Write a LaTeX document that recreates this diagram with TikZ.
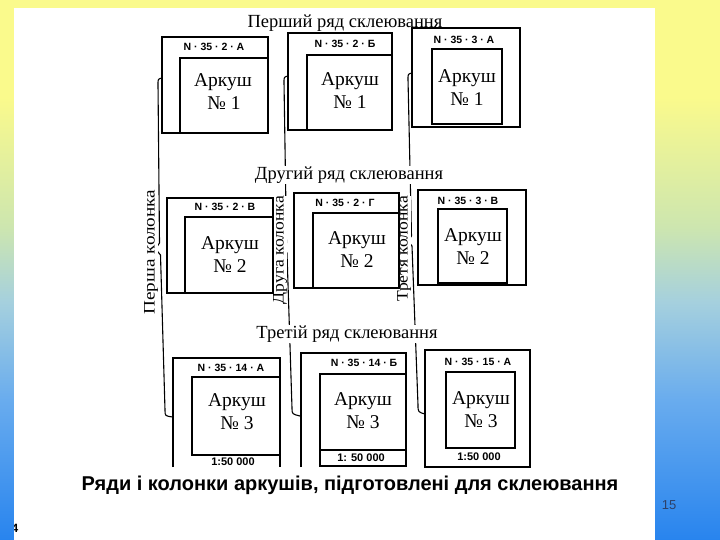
\documentclass[tikz,border=0pt]{standalone}
\usepackage{graphicx}
\usepackage{fontspec}
\setmainfont{Liberation Serif}
\newfontfamily\lsans{Liberation Sans}
\definecolor{bgblue}{RGB}{40,132,238}
\definecolor{bgmblue}{RGB}{105,172,238}
\definecolor{bglblue}{RGB}{165,208,222}
\definecolor{bggreen}{RGB}{205,230,175}
\definecolor{bgyellow}{RGB}{250,250,140}
\definecolor{pagenum}{RGB}{45,65,105}
\pgfdeclareverticalshading{bgshade}{100bp}{color(0bp)=(bgblue); color(25bp)=(bgblue); color(38bp)=(bgmblue); color(47bp)=(bglblue); color(54bp)=(bggreen); color(66bp)=(bgyellow); color(75bp)=(bgyellow); color(100bp)=(bgyellow)}
\usetikzlibrary{calc}
\tikzset{
  outerbox/.style={line width=2.8pt, line join=miter},
  innerbox/.style={line width=2pt, line join=miter},
  bracket/.style={line width=1.1pt, line join=round, line cap=round},
  sheetlbl/.style={font=\lsans\bfseries\fontsize{10.5}{11}\selectfont, inner sep=0pt},
  ark/.style={font=\fontsize{19.5}{21}\selectfont, inner sep=0pt},
  heading/.style={font=\fontsize{18.5}{20}\selectfont, fill=white, inner sep=0.6pt},
  collbl/.style={font=\fontsize{16}{18}\selectfont, rotate=90, fill=white, inner sep=0.4pt},
  scl/.style={font=\lsans\bfseries\fontsize{11}{12}\selectfont, inner sep=0pt},
}
\begin{document}
\begin{tikzpicture}[x=1pt,y=-1pt]
\useasboundingbox (0,0) rectangle (720,540);
\shade[shading=bgshade] (0,0) rectangle (720,540);
\fill[white] (14,8) rectangle (655,540);

% column brackets
\draw[bracket] (162,78) .. controls (158,79) .. (158,84) -- (159.5,243) -- (155.5,249) -- (160.5,255) -- (165,410) .. controls (165,416) .. (173,417);
\draw[bracket] (288,76) .. controls (284,77) .. (284,82) -- (286.5,243) -- (283,248) -- (287,253) -- (292,408) .. controls (292,414) .. (300,416);
\draw[bracket] (412,73) .. controls (408,74) .. (408,79) -- (411.5,236) -- (408,241) -- (412,246) -- (418,405) .. controls (418,412) .. (425,414);

% headings
\node[heading] (h1) at (345,23) {Перший ряд склеювання};
\node[heading] (h2) at (349,175) {Другий ряд склеювання};
\node[heading] (h3) at (347,334) {Третій ряд склеювання};

% column labels
\node[collbl] (c1) at (151,252) {\scalebox{1.2}[1]{Перша колонка}};
\node[collbl] (c2) at (280,250) {\scalebox{1.1}[1]{Друга колонка}};
\node[collbl] (c3) at (404,249) {\scalebox{1.1}[1]{Третя колонка}};

% row 1
\draw[outerbox] (162,37) rectangle (268,133);
\draw[innerbox] (180,58) rectangle (268,133);
\node[sheetlbl] (l1a) at (214,47) {N · 35 · 2 · А};
\node[ark] (a1a) at (223,82) {Аркуш};
\node[ark] (n1a) at (224,103) {№ 1};

\draw[outerbox] (288,33) rectangle (392,130);
\draw[innerbox] (307,55) rectangle (392,130);
\node[sheetlbl] (l1b) at (345,44) {N · 35 · 2 · Б};
\node[ark] (a1b) at (350,81) {Аркуш};
\node[ark] (n1b) at (350,102) {№ 1};

\draw[outerbox] (412,28) rectangle (520,127);
\draw[innerbox] (432,49) rectangle (502,124);
\node[sheetlbl] (l1c) at (464,40) {N · 35 · 3 · А};
\node[ark] (a1c) at (467,78) {Аркуш};
\node[ark] (n1c) at (467,99) {№ 1};

% row 2
\draw[outerbox] (167,198) rectangle (273,293);
\draw[innerbox] (185,217) rectangle (273,293);
\node[sheetlbl] (l2a) at (225,207) {N · 35 · 2 · В};
\node[ark] (a2a) at (230,245) {Аркуш};
\node[ark] (n2a) at (230,266) {№ 2};

\draw[outerbox] (294,193) rectangle (399,288);
\draw[innerbox] (313,213) rectangle (399,288);
\node[sheetlbl] (l2b) at (345,203) {N · 35 · 2 · Г};
\node[ark] (a2b) at (357,240) {Аркуш};
\node[ark] (n2b) at (357,261) {№ 2};

\draw[outerbox] (418,190) rectangle (526,285);
\draw[innerbox] (438,209) rectangle (507,283);
\node[sheetlbl] (l2c) at (468,201) {N · 35 · 3 · В};
\node[ark] (a2c) at (473,237) {Аркуш};
\node[ark] (n2c) at (473,258) {№ 2};

% row 3
\draw[outerbox] (173,467) -- (173,358) -- (280,358) -- (280,467);
\draw[innerbox] (192,377) rectangle (280,455);
\node[sheetlbl] (l3a) at (231,368) {N · 35 · 14 · А};
\node[ark] (a3a) at (237,402) {Аркуш};
\node[ark] (n3a) at (237,423) {№ 3};
\node[scl] (s3a) at (233,462) {1:50 000};

\draw[outerbox] (301,467) -- (301,353) -- (406,353) -- (406,467);
\draw[innerbox] (320,374) rectangle (406,450);
\draw[innerbox] (320,450) -- (320,466) -- (406,466);
\node[sheetlbl] (l3b) at (364,363) {N · 35 · 14 · Б};
\node[ark] (a3b) at (363,401) {Аркуш};
\node[ark] (n3b) at (363,422) {№ 3};
\node[scl] (s3b) at (361,458) {1: 50 000};

\draw[outerbox] (425,350) rectangle (530,467);
\draw[innerbox] (446,372) rectangle (515,448);
\node[sheetlbl] (l3c) at (478,362) {N · 35 · 15 · А};
\node[ark] (a3c) at (481,400) {Аркуш};
\node[ark] (n3c) at (481,421) {№ 3};
\node[scl] (s3c) at (479,457) {1:50 000};

% caption and page number
\node[font=\lsans\bfseries\fontsize{20}{22}\selectfont, inner sep=0pt] (cap) at (350,485) {Ряди і колонки аркушів, підготовлені для склеювання};
\node[font=\lsans\fontsize{13}{15}\selectfont, text=pagenum, inner sep=0pt] (pg) at (669,505) {15};
\begin{scope}
\clip (14,8) rectangle (655,540);
\node[font=\lsans\bfseries\fontsize{12}{14}\selectfont, inner sep=0pt, anchor=west] (frag) at (11.5,528) {4};
\end{scope}
\end{tikzpicture}
\end{document}
